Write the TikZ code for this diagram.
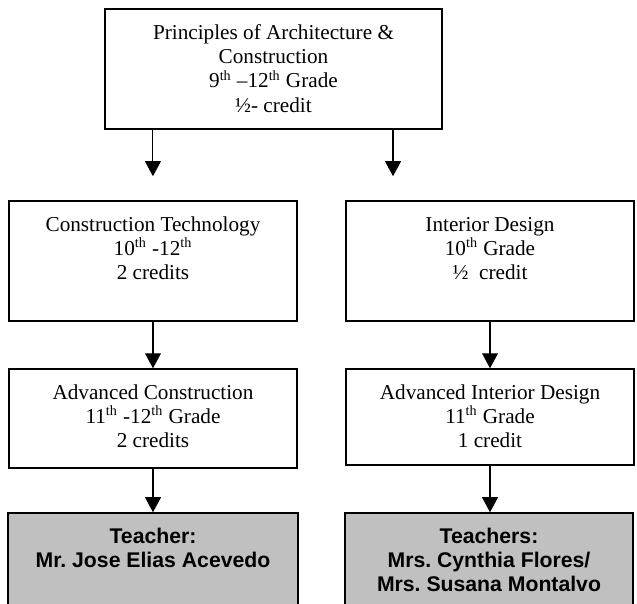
\documentclass[tikz,border=0pt]{standalone}
\usepackage{fontspec}
\setmainfont{Liberation Serif}
\newfontfamily\teacherfont{Liberation Sans}
\usepackage{tikz}
\usetikzlibrary{arrows.meta}
\definecolor{boxgray}{RGB}{192,192,192}
\newcommand{\thsup}{\textsuperscript{th}}

\begin{document}
\begin{tikzpicture}[x=0.5656pt, y=-0.5656pt,
    course/.style={draw, line width=0.8pt, inner sep=0pt, font=\fontsize{12}{13.8}\selectfont},
    teacher/.style={course, fill=boxgray, font=\teacherfont\bfseries\fontsize{12}{13.8}\selectfont},
    arr/.style={-{Triangle[width=9pt, length=8.5pt]}, line width=0.6pt}]
    \clip (0,0) rectangle (637,604);
    \useasboundingbox (0,0) rectangle (637,604);

    % Principles
    \node[course] (pac) at (273.5,69) {
        \begin{minipage}[c][67.9pt][t]{190.6pt}
        \centering
        \rule{0pt}{17pt}Principles of Architecture \&\\
        Construction\\
        9\thsup{} --12\thsup{} Grade\\
        ½- credit
        \end{minipage}
    };

    % Second year
    \node[course] (ctech) at (153,261) {
        \begin{minipage}[c][67.9pt][t]{162.9pt}
        \centering
        \rule{0pt}{17pt}Construction Technology\\
        10\thsup{} -12\thsup\\
        2 credits
        \end{minipage}
    };
    \node[course] (idesign) at (490,261) {
        \begin{minipage}[c][67.9pt][t]{162.9pt}
        \centering
        \rule{0pt}{17pt}Interior Design\\
        10\thsup{} Grade\\
        ½~~credit
        \end{minipage}
    };

    % Advanced
    \node[course] (advcon) at (153,418.5) {
        \begin{minipage}[c][56pt][t]{162.9pt}
        \centering
        \rule{0pt}{17pt}Advanced Construction\\
        11\thsup{} -12\thsup{} Grade\\
        2 credits
        \end{minipage}
    };
    \node[course] (advint) at (490,417) {
        \begin{minipage}[c][54.3pt][t]{162.9pt}
        \centering
        \rule{0pt}{17pt}Advanced Interior Design\\
        11\thsup{} Grade\\
        1 credit
        \end{minipage}
    };

    % Teachers
    \node[teacher] (teachL) at (153,563) {
        \begin{minipage}[c][56.6pt][t]{164pt}
        \centering
        \rule{0pt}{17pt}Teacher:\\
        Mr.\ Jose Elias Acevedo
        \end{minipage}
    };
    \node[teacher] (teachR) at (489,563) {
        \begin{minipage}[c][56.6pt][t]{162.9pt}
        \centering
        \rule{0pt}{17pt}Teachers:\\
        Mrs.\ Cynthia Flores/\\
        Mrs.\ Susana Montalvo
        \end{minipage}
    };

    % Arrows
    \coordinate (splitL) at ([xshift=-68.2pt]pac.south);
    \coordinate (splitR) at ([xshift=67.6pt]pac.south);
    \draw[arr, shorten >=13.6pt] (splitL) -- (splitL |- ctech.north);
    \draw[arr, shorten >=13.6pt] (splitR) -- (splitR |- idesign.north);
    \draw[arr] (ctech) -- (advcon);
    \draw[arr] (idesign) -- (advint);
    \draw[arr] (advcon.south) -- (advcon.south |- teachL.north);
    \draw[arr] (advint.south) -- (advint.south |- teachR.north);
\end{tikzpicture}
\end{document}
